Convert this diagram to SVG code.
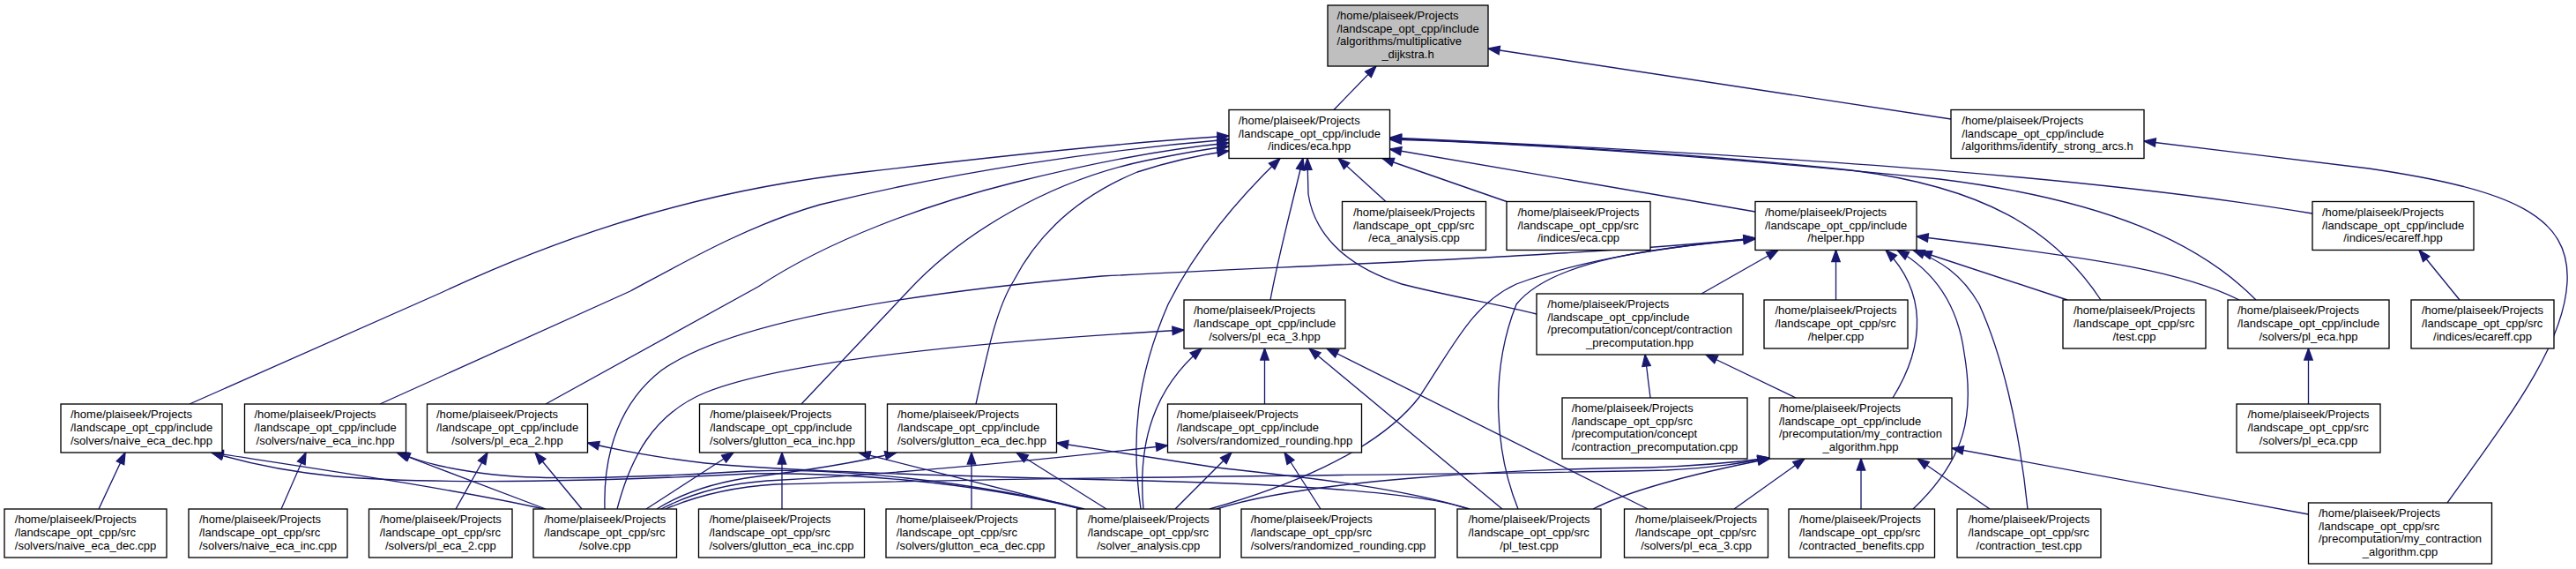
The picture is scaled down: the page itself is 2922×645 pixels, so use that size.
<svg xmlns="http://www.w3.org/2000/svg" width="2922" height="645" viewBox="0 0 2922 645">
<style>
.node rect{fill:#ffffff;stroke:#000000;stroke-width:1.33}
.root rect{fill:#bfbfbf}
text{font-family:"Liberation Sans",Arial,Helvetica,sans-serif;font-size:13px;fill:#000000}
.m{text-anchor:middle}
#edges path{fill:none;stroke:#191970;stroke-width:1.33;marker-end:url(#arr)}
</style>
<defs>
<marker id="arr" markerUnits="userSpaceOnUse" markerWidth="16" markerHeight="12" refX="13" refY="5" orient="auto" overflow="visible"><path d="M0,0.3L13,5L0,9.7z" fill="#191970" stroke="#191970" stroke-width="1.33"/></marker>
</defs>
<rect x="0" y="0" width="2922" height="645" fill="#ffffff"/>
<g id="edges">
<path d="M1513,124.5 L1561,75"/>
<path d="M2213,135 L1688,55"/>
<path d="M2776,570 C2840,480 2908,395 2912,320 C2916,245 2850,215 2687,191 L2432,160"/>
<path d="M215,458 L500,332 C650,262 800,215 980,195 C1150,175 1300,160 1394,154"/>
<path d="M431,458 L715,330 C780,295 850,255 930,232 C1080,195 1250,170 1394,158"/>
<path d="M619,458 L860,325 C940,272 1050,232 1150,207 C1250,182 1330,168 1394,162"/>
<path d="M909,458 L1030,330 C1090,265 1190,205 1300,182 C1340,174 1370,168 1394,166"/>
<path d="M1107,458 C1120,400 1130,350 1150,318 C1180,260 1230,220 1290,195 C1330,182 1365,175 1394,171"/>
<path d="M1294,577 C1283,500 1288,430 1325,345 C1360,275 1410,220 1452,179.5"/>
<path d="M1441,340 C1450,290 1465,235 1478,179.5"/>
<path d="M1743,356 C1700,345 1640,335 1590,322 C1520,300 1490,260 1484,220 L1483,179.5"/>
<path d="M1572,228.5 L1518,179.5"/>
<path d="M1709,228.5 L1568,179.5"/>
<path d="M1991,240 L1576.5,169"/>
<path d="M2623,242 C2400,205 2100,180 1576.5,156"/>
<path d="M2383,340 C2330,260 2250,212 2100,193 C1900,172 1700,162 1576.5,157"/>
<path d="M2559,340 C2500,280 2400,228 2200,203 C1950,178 1750,163 1576.5,158"/>
<path d="M2082.5,340 L2082.5,283.5"/>
<path d="M1930,333 L2017,283.5"/>
<path d="M686,577 C684,510 705,455 750,420 C820,370 1000,335 1250,313 C1500,300 1800,290 1991,270"/>
<path d="M1372,577 C1450,555 1560,515 1610,450 C1650,390 1670,345 1720,322 C1800,292 1900,279 1991,270"/>
<path d="M1722,577 C1695,510 1690,420 1720,345 C1760,295 1880,280 1991,271"/>
<path d="M2147,451 C2185,390 2185,330 2139,283.5"/>
<path d="M2170,577 C2230,520 2240,470 2228,400 C2220,340 2190,305 2152,283.5"/>
<path d="M2300,577 C2290,480 2270,400 2245,345 C2225,310 2200,295 2170,283.5"/>
<path d="M2345,340 L2178,285"/>
<path d="M2540,340 C2480,310 2400,295 2174,268"/>
<path d="M2790,340 L2744,283.5"/>
<path d="M700,577 C715,520 740,470 800,445 C900,405 1150,385 1343,374"/>
<path d="M1297,577 C1290,500 1310,440 1363,395"/>
<path d="M1434.5,458 L1434.5,395"/>
<path d="M1704,577 L1485,395"/>
<path d="M1869,577 L1505,395"/>
<path d="M1872,451 L1866,402"/>
<path d="M2037,451 L1935,402"/>
<path d="M2618.5,458 L2618.5,395"/>
<path d="M755,577 C790,562 830,552 880,549 C1200,540 1700,538 1890,533 C1950,530 1980,524 2007,519"/>
<path d="M1380,577 C1480,545 1700,532 1870,530 C1930,528 1970,524 2007,519"/>
<path d="M1807,577 C1850,555 1930,535 2007,520"/>
<path d="M1967,577 L2047,520"/>
<path d="M2111,577 L2111,520"/>
<path d="M2257,577 L2175,520"/>
<path d="M2618.5,583 L2214,508"/>
<path d="M750,577 C790,556 830,548 870,545 C1000,538 1150,525 1324.5,505"/>
<path d="M1333,577 L1397,513"/>
<path d="M1498,577 L1457,513"/>
<path d="M745,577 C780,555 820,545 860,540 C920,532 970,525 1017,513"/>
<path d="M1102,577 L1102,513"/>
<path d="M1255,577 L1153,513"/>
<path d="M1667,577 C1580,550 1450,538 1380,530 L1198.5,502"/>
<path d="M887,577 L887,513"/>
<path d="M733,577 L832,513"/>
<path d="M1227,577 L974,513"/>
<path d="M517,577 L553,513"/>
<path d="M660,577 L607,513"/>
<path d="M1665,577 C1620,560 1500,550 1300,545 C1100,540 900,535 800,525 C740,518 700,510 666.5,502"/>
<path d="M319,577 L347,513"/>
<path d="M619,577 L450,513"/>
<path d="M1230,577 C1100,545 950,530 850,534 C750,540 620,545 560,538 C510,532 480,525 452,513"/>
<path d="M112,577 L142,513"/>
<path d="M617,577 C520,555 350,530 240,513"/>
<path d="M1227,577 C1100,545 950,535 850,537 C700,545 500,550 380,540 C320,534 280,525 240,513"/>
</g>
<g id="node-multiplicative-dijkstra-h" class="node root"><rect x="1506" y="6" width="182" height="69"/><text x="1516.5" y="22.1">/home/plaiseek/Projects</text><text x="1516.5" y="36.7">/landscape_opt_cpp/include</text><text x="1516.5" y="51.3">/algorithms/multiplicative</text><text class="m" x="1597" y="65.9">_dijkstra.h</text></g>
<g id="node-eca-hpp" class="node"><rect x="1394" y="124.5" width="182.5" height="55"/><text x="1404.7" y="140.9">/home/plaiseek/Projects</text><text x="1404.7" y="155.5">/landscape_opt_cpp/include</text><text class="m" x="1485.25" y="170.1">/indices/eca.hpp</text></g>
<g id="node-identify-strong-arcs-h" class="node"><rect x="2213" y="124.5" width="219" height="55"/><text x="2225.3" y="140.9">/home/plaiseek/Projects</text><text x="2225.3" y="155.5">/landscape_opt_cpp/include</text><text class="m" x="2322.5" y="170.1">/algorithms/identify_strong_arcs.h</text></g>
<g id="node-eca-analysis-cpp" class="node"><rect x="1522.5" y="228.5" width="163" height="55"/><text x="1535" y="244.9">/home/plaiseek/Projects</text><text x="1535" y="259.5">/landscape_opt_cpp/src</text><text class="m" x="1604" y="274.1">/eca_analysis.cpp</text></g>
<g id="node-indices-eca-cpp" class="node"><rect x="1709" y="228.5" width="163" height="55"/><text x="1721.5" y="244.9">/home/plaiseek/Projects</text><text x="1721.5" y="259.5">/landscape_opt_cpp/src</text><text class="m" x="1790.5" y="274.1">/indices/eca.cpp</text></g>
<g id="node-helper-hpp" class="node"><rect x="1991" y="228.5" width="183" height="55"/><text x="2002" y="244.9">/home/plaiseek/Projects</text><text x="2002" y="259.5">/landscape_opt_cpp/include</text><text class="m" x="2082.5" y="274.1">/helper.hpp</text></g>
<g id="node-ecareff-hpp" class="node"><rect x="2623" y="228.5" width="183" height="55"/><text x="2634" y="244.9">/home/plaiseek/Projects</text><text x="2634" y="259.5">/landscape_opt_cpp/include</text><text class="m" x="2714.5" y="274.1">/indices/ecareff.hpp</text></g>
<g id="node-pl-eca-3-hpp" class="node"><rect x="1343" y="340" width="183" height="55"/><text x="1354" y="356.4">/home/plaiseek/Projects</text><text x="1354" y="371">/landscape_opt_cpp/include</text><text class="m" x="1434.5" y="385.6">/solvers/pl_eca_3.hpp</text></g>
<g id="node-contraction-precomputation-hpp" class="node"><rect x="1743" y="333" width="234" height="69"/><text x="1755.3" y="349.1">/home/plaiseek/Projects</text><text x="1755.3" y="363.7">/landscape_opt_cpp/include</text><text x="1755.3" y="378.3">/precomputation/concept/contraction</text><text class="m" x="1860" y="392.9">_precomputation.hpp</text></g>
<g id="node-helper-cpp" class="node"><rect x="2001" y="340" width="163" height="55"/><text x="2013.5" y="356.4">/home/plaiseek/Projects</text><text x="2013.5" y="371">/landscape_opt_cpp/src</text><text class="m" x="2082.5" y="385.6">/helper.cpp</text></g>
<g id="node-test-cpp" class="node"><rect x="2340" y="340" width="162" height="55"/><text x="2352" y="356.4">/home/plaiseek/Projects</text><text x="2352" y="371">/landscape_opt_cpp/src</text><text class="m" x="2421" y="385.6">/test.cpp</text></g>
<g id="node-pl-eca-hpp" class="node"><rect x="2527" y="340" width="183" height="55"/><text x="2538" y="356.4">/home/plaiseek/Projects</text><text x="2538" y="371">/landscape_opt_cpp/include</text><text class="m" x="2618.5" y="385.6">/solvers/pl_eca.hpp</text></g>
<g id="node-ecareff-cpp" class="node"><rect x="2735" y="340" width="162" height="55"/><text x="2747" y="356.4">/home/plaiseek/Projects</text><text x="2747" y="371">/landscape_opt_cpp/src</text><text class="m" x="2816" y="385.6">/indices/ecareff.cpp</text></g>
<g id="node-naive-eca-dec-hpp" class="node"><rect x="69" y="458" width="183" height="55"/><text x="80" y="474.4">/home/plaiseek/Projects</text><text x="80" y="489">/landscape_opt_cpp/include</text><text class="m" x="160.5" y="503.6">/solvers/naive_eca_dec.hpp</text></g>
<g id="node-naive-eca-inc-hpp" class="node"><rect x="277.5" y="458" width="183" height="55"/><text x="288.5" y="474.4">/home/plaiseek/Projects</text><text x="288.5" y="489">/landscape_opt_cpp/include</text><text class="m" x="369" y="503.6">/solvers/naive_eca_inc.hpp</text></g>
<g id="node-pl-eca-2-hpp" class="node"><rect x="484.5" y="458" width="182" height="55"/><text x="495" y="474.4">/home/plaiseek/Projects</text><text x="495" y="489">/landscape_opt_cpp/include</text><text class="m" x="575.5" y="503.6">/solvers/pl_eca_2.hpp</text></g>
<g id="node-glutton-eca-inc-hpp" class="node"><rect x="793.5" y="458" width="188" height="55"/><text x="805.2" y="474.4">/home/plaiseek/Projects</text><text x="805.2" y="489">/landscape_opt_cpp/include</text><text class="m" x="887.5" y="503.6">/solvers/glutton_eca_inc.hpp</text></g>
<g id="node-glutton-eca-dec-hpp" class="node"><rect x="1006.5" y="458" width="192" height="55"/><text x="1018" y="474.4">/home/plaiseek/Projects</text><text x="1018" y="489">/landscape_opt_cpp/include</text><text class="m" x="1102.5" y="503.6">/solvers/glutton_eca_dec.hpp</text></g>
<g id="node-randomized-rounding-hpp" class="node"><rect x="1324.5" y="458" width="220" height="55"/><text x="1334.8" y="474.4">/home/plaiseek/Projects</text><text x="1334.8" y="489">/landscape_opt_cpp/include</text><text class="m" x="1434.5" y="503.6">/solvers/randomized_rounding.hpp</text></g>
<g id="node-contraction-precomputation-cpp" class="node"><rect x="1772" y="451" width="210" height="69"/><text x="1782.7" y="467.1">/home/plaiseek/Projects</text><text x="1782.7" y="481.7">/landscape_opt_cpp/src</text><text x="1782.7" y="496.3">/precomputation/concept</text><text class="m" x="1877" y="510.9">/contraction_precomputation.cpp</text></g>
<g id="node-my-contraction-algorithm-hpp" class="node"><rect x="2007" y="451" width="207" height="69"/><text x="2018" y="467.1">/home/plaiseek/Projects</text><text x="2018" y="481.7">/landscape_opt_cpp/include</text><text x="2018" y="496.3">/precomputation/my_contraction</text><text class="m" x="2110.5" y="510.9">_algorithm.hpp</text></g>
<g id="node-pl-eca-cpp" class="node"><rect x="2537" y="458" width="163" height="55"/><text x="2549.5" y="474.4">/home/plaiseek/Projects</text><text x="2549.5" y="489">/landscape_opt_cpp/src</text><text class="m" x="2618.5" y="503.6">/solvers/pl_eca.cpp</text></g>
<g id="node-naive-eca-dec-cpp" class="node"><rect x="5" y="577" width="184" height="55"/><text x="16.8" y="593.4">/home/plaiseek/Projects</text><text x="16.8" y="608">/landscape_opt_cpp/src</text><text class="m" x="97" y="622.6">/solvers/naive_eca_dec.cpp</text></g>
<g id="node-naive-eca-inc-cpp" class="node"><rect x="214" y="577" width="180" height="55"/><text x="226" y="593.4">/home/plaiseek/Projects</text><text x="226" y="608">/landscape_opt_cpp/src</text><text class="m" x="304" y="622.6">/solvers/naive_eca_inc.cpp</text></g>
<g id="node-pl-eca-2-cpp" class="node"><rect x="418.5" y="577" width="162.5" height="55"/><text x="430.75" y="593.4">/home/plaiseek/Projects</text><text x="430.75" y="608">/landscape_opt_cpp/src</text><text class="m" x="499.75" y="622.6">/solvers/pl_eca_2.cpp</text></g>
<g id="node-solve-cpp" class="node"><rect x="605" y="577" width="162.5" height="55"/><text x="617.25" y="593.4">/home/plaiseek/Projects</text><text x="617.25" y="608">/landscape_opt_cpp/src</text><text class="m" x="686.25" y="622.6">/solve.cpp</text></g>
<g id="node-glutton-eca-inc-cpp" class="node"><rect x="792.5" y="577" width="188" height="55"/><text x="804.5" y="593.4">/home/plaiseek/Projects</text><text x="804.5" y="608">/landscape_opt_cpp/src</text><text class="m" x="886.5" y="622.6">/solvers/glutton_eca_inc.cpp</text></g>
<g id="node-glutton-eca-dec-cpp" class="node"><rect x="1005" y="577" width="192" height="55"/><text x="1016.8" y="593.4">/home/plaiseek/Projects</text><text x="1016.8" y="608">/landscape_opt_cpp/src</text><text class="m" x="1101" y="622.6">/solvers/glutton_eca_dec.cpp</text></g>
<g id="node-solver-analysis-cpp" class="node"><rect x="1221.5" y="577" width="162.5" height="55"/><text x="1233.75" y="593.4">/home/plaiseek/Projects</text><text x="1233.75" y="608">/landscape_opt_cpp/src</text><text class="m" x="1302.75" y="622.6">/solver_analysis.cpp</text></g>
<g id="node-randomized-rounding-cpp" class="node"><rect x="1408" y="577" width="220" height="55"/><text x="1418.7" y="593.4">/home/plaiseek/Projects</text><text x="1418.7" y="608">/landscape_opt_cpp/src</text><text class="m" x="1518" y="622.6">/solvers/randomized_rounding.cpp</text></g>
<g id="node-pl-test-cpp" class="node"><rect x="1653" y="577" width="163" height="55"/><text x="1665.5" y="593.4">/home/plaiseek/Projects</text><text x="1665.5" y="608">/landscape_opt_cpp/src</text><text class="m" x="1734.5" y="622.6">/pl_test.cpp</text></g>
<g id="node-pl-eca-3-cpp" class="node"><rect x="1842.5" y="577" width="163" height="55"/><text x="1855" y="593.4">/home/plaiseek/Projects</text><text x="1855" y="608">/landscape_opt_cpp/src</text><text class="m" x="1924" y="622.6">/solvers/pl_eca_3.cpp</text></g>
<g id="node-contracted-benefits-cpp" class="node"><rect x="2029" y="577" width="165.5" height="55"/><text x="2041" y="593.4">/home/plaiseek/Projects</text><text x="2041" y="608">/landscape_opt_cpp/src</text><text class="m" x="2111.75" y="622.6">/contracted_benefits.cpp</text></g>
<g id="node-contraction-test-cpp" class="node"><rect x="2220" y="577" width="163" height="55"/><text x="2232.5" y="593.4">/home/plaiseek/Projects</text><text x="2232.5" y="608">/landscape_opt_cpp/src</text><text class="m" x="2301.5" y="622.6">/contraction_test.cpp</text></g>
<g id="node-my-contraction-algorithm-cpp" class="node"><rect x="2618.5" y="570" width="208" height="69"/><text x="2630" y="586.1">/home/plaiseek/Projects</text><text x="2630" y="600.7">/landscape_opt_cpp/src</text><text x="2630" y="615.3">/precomputation/my_contraction</text><text class="m" x="2722.5" y="629.9">_algorithm.cpp</text></g>
</svg>
